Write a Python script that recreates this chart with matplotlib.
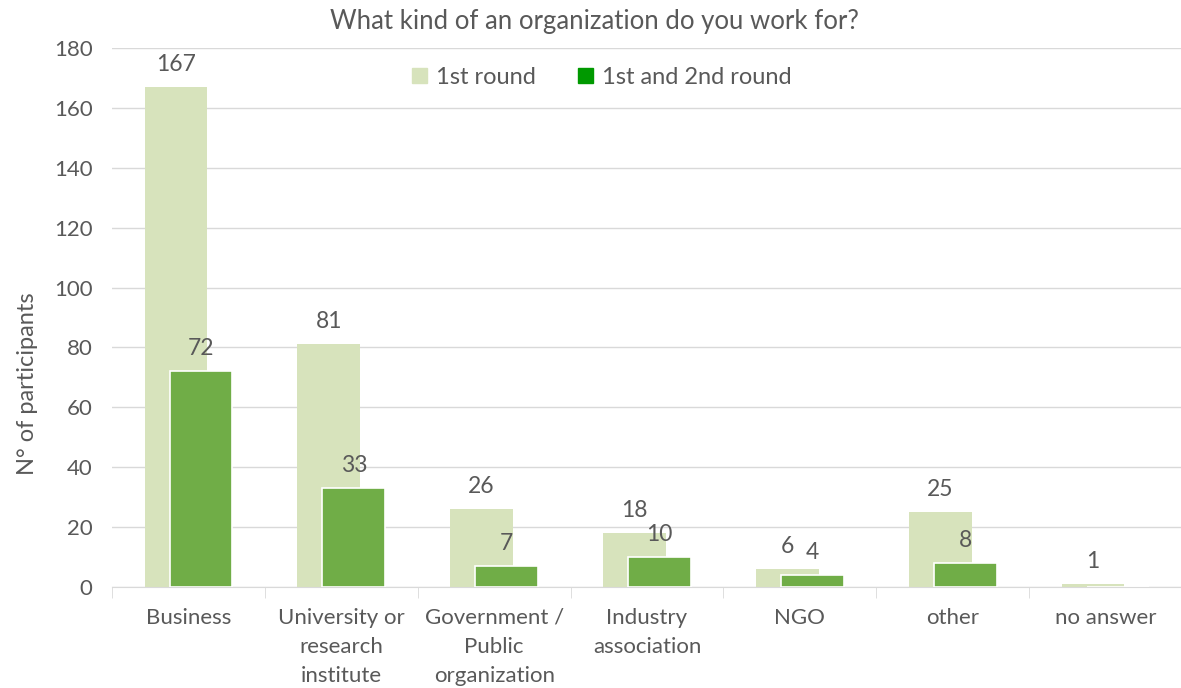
import matplotlib.pyplot as plt
import numpy as np
from matplotlib.patches import Patch

# Survey counts per organization type
categories = ["Business", "University or\nresearch\ninstitute", "Government /\nPublic\norganization",
              "Industry\nassociation", "NGO", "other", "no answer"]
first_round = [167, 81, 26, 18, 6, 25, 1]
both_rounds = [72, 33, 7, 10, 4, 8, 0]

light = "#D7E3BC"
dark = "#70AD47"
txt = "#595959"

plt.rcParams['font.family'] = ['Lato', 'DejaVu Sans']

fig = plt.figure(figsize=(11.81, 6.88), dpi=100)
ax = fig.add_axes([112/1181, 1 - 587/688, 1070/1181, 539/688])

x = np.arange(len(categories))
w = 0.41
off = 0.082

ax.bar(x - off, first_round, w, color=light, zorder=2)
ax.bar(x + off, both_rounds, w, color=dark, edgecolor="white", linewidth=1.2, zorder=3)

for i in range(len(categories)):
    ax.text(x[i] - off, first_round[i] + 4, str(first_round[i]), ha="center", va="bottom",
            fontsize=16.5, color=txt, zorder=4)
    if both_rounds[i] > 0:
        ax.text(x[i] + off, both_rounds[i] + 4, str(both_rounds[i]), ha="center", va="bottom",
                fontsize=16.5, color=txt, zorder=4)

ax.set_xlim(-0.5, len(categories) - 0.5)
ax.set_ylim(0, 180)
ax.set_yticks(range(0, 181, 20))
ax.yaxis.grid(True, color="#D9D9D9", linewidth=1)
ax.set_axisbelow(True)

ax.set_xticks(x)
ax.set_xticklabels(categories, fontsize=16, color=txt, linespacing=1.58, va="top")
ax.set_xticks(np.arange(-0.5, len(categories), 1), minor=True)
ax.tick_params(axis="x", which="major", length=0, pad=15)
ax.tick_params(axis="x", which="minor", length=8, color="#D9D9D9")
ax.tick_params(axis="y", length=0, labelsize=16, labelcolor=txt, pad=14)

for s in ["top", "right", "left"]:
    ax.spines[s].set_visible(False)
ax.spines["bottom"].set_color("#D9D9D9")

fig.text(28/1181, 1 - 384/688, "N° of participants", rotation=90, ha="center", va="center",
         fontsize=17, color=txt)
fig.text(594/1181, 1 - 22/688, "What kind of an organization do you work for?", ha="center",
         va="center", fontsize=18.5, color=txt)

handles = [Patch(color=light, label="1st round"), Patch(color="#009900", label="1st and 2nd round")]
ax.legend(handles=handles, loc="center", bbox_to_anchor=(0.458, 0.946), ncol=2, frameon=False,
          fontsize=17, labelcolor=txt, handlelength=0.6, handleheight=0.6, columnspacing=1.8,
          handletextpad=0.4)

fig.savefig("out.png", dpi=100)
